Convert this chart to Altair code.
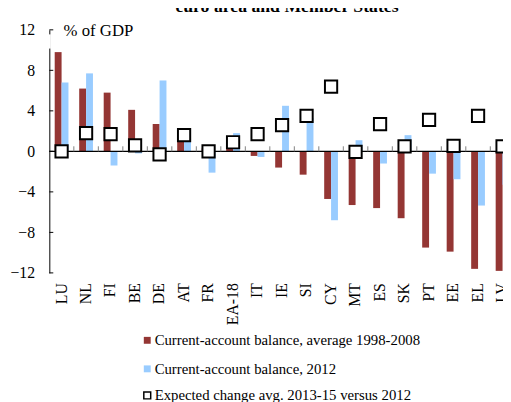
import altair as alt
import pandas as pd

# ---- data ----
countries = ["LU", "NL", "FI", "BE", "DE", "AT", "FR", "EA-18", "IT", "IE",
             "SI", "CY", "MT", "ES", "SK", "PT", "EE", "EL", "LV"]
avg_1998_2008 = [9.8, 6.2, 5.8, 4.1, 2.7, 1.0, 0.3, 0.4, -0.45, -1.6,
                 -2.3, -4.7, -5.3, -5.6, -6.6, -9.5, -9.9, -11.6, -11.8]
ca_2012 = [6.8, 7.7, -1.4, -0.2, 7.0, 1.6, -2.1, 1.8, -0.55, 4.5,
           3.3, -6.8, 1.1, -1.2, 1.6, -2.2, -2.75, -5.35, -3.3]
exp_change = [0.0, 1.8, 1.7, 0.6, -0.3, 1.6, 0.0, 0.9, 1.7, 2.6,
              3.5, 6.4, -0.05, 2.7, 0.5, 3.1, 0.55, 3.5, 0.5]
y_ticks = [-12, -8, -4, 0, 4, 8, 12]

lab_avg = "Current-account balance, average 1998-2008"
lab_2012 = "Current-account balance, 2012"
lab_exp = "Expected change avg. 2013-15 versus 2012"
title_text = "euro area and Member States"

RED = "#943634"
BLUE = "#99CCFF"
FONT = "Liberation Serif"

bars_df = pd.DataFrame({
    "country": countries * 2,
    "series": [lab_avg] * len(countries) + [lab_2012] * len(countries),
    "value": avg_1998_2008 + ca_2012,
})
sq_df = pd.DataFrame({"country": countries, "value": exp_change, "kind": [lab_exp] * len(countries)})
sep_df = pd.DataFrame({"country": countries[1:]})
yt_df = pd.DataFrame({"v": y_ticks})
title_df = pd.DataFrame({"t": [title_text]})

x_scale = alt.Scale(domain=countries, range=[0, 473], paddingInner=0, paddingOuter=0)
y_scale = alt.Scale(domain=[-12, 12], nice=False, zero=False)

x_enc = alt.X("country:N", scale=x_scale, sort=countries, title=None,
              axis=alt.Axis(labelAngle=-90, labelFont=FONT, labelFontSize=16,
                            labelColor="black", labelPadding=10, domain=False,
                            ticks=False, grid=False))
y_axis = alt.Axis(values=y_ticks, labelFont=FONT, labelFontSize=16, labelColor="black",
                  ticks=False, labelPadding=15, grid=False, domainColor="black",
                  domainWidth=1, title="% of GDP", titleAngle=0, titleAlign="left",
                  titleBaseline="middle", titleX=14, titleY=1, titleFont=FONT,
                  titleFontSize=17, titleFontWeight="normal", titleColor="black")

leg_common = dict(orient="none", title=None, symbolType="square", symbolSize=49,
                  labelFont=FONT, labelFontSize=15, labelColor="black",
                  labelOffset=0, padding=0, labelLimit=400)

bars = alt.Chart(bars_df).mark_bar().encode(
    x=x_enc,
    xOffset=alt.XOffset("series:N", sort=[lab_avg, lab_2012],
                        scale=alt.Scale(paddingInner=0, paddingOuter=0.78)),
    y=alt.Y("value:Q", scale=y_scale, axis=y_axis),
    color=alt.Color("series:N",
                    scale=alt.Scale(domain=[lab_avg, lab_2012], range=[RED, BLUE]),
                    legend=alt.Legend(legendX=92, legendY=308, symbolStrokeWidth=0,
                                      rowPadding=13, **leg_common)),
)

zero = alt.Chart(title_df).mark_rule(color="black", strokeWidth=1.3).encode(
    y=alt.datum(0, scale=y_scale))

seps = alt.Chart(sep_df).mark_rule(color="#808080", strokeWidth=1).encode(
    x=alt.X("country:N", scale=x_scale, sort=countries, bandPosition=0),
    y=alt.datum(0), y2=alt.datum(0.5))

yticks = alt.Chart(yt_df).mark_rule(color="black", strokeWidth=1).encode(
    x=alt.value(0), x2=alt.value(4), y=alt.Y("v:Q", scale=y_scale))

gap = alt.Chart(title_df).mark_rule(color="white", strokeWidth=3).encode(
    x=alt.value(0), y=alt.datum(11.55), y2=alt.datum(10.15))

squares = alt.Chart(sq_df).mark_point(shape="square", filled=False, fill="white",
                                      fillOpacity=1, strokeWidth=2, size=155,
                                      opacity=1).encode(
    x=alt.X("country:N", scale=x_scale, sort=countries),
    y=alt.Y("value:Q", scale=y_scale),
    stroke=alt.Stroke("kind:N", scale=alt.Scale(domain=[lab_exp], range=["black"]),
                      legend=alt.Legend(legendX=92, legendY=364, symbolFillColor="white",
                                        symbolStrokeWidth=1.5, **leg_common)),
)

title = alt.Chart(title_df).mark_text(font=FONT, fontSize=18, fontWeight="bold",
                                      align="center", baseline="alphabetic",
                                      color="black").encode(
    text="t:N", x=alt.value(241.5), y=alt.value(-18))

chart = alt.layer(bars, zero, seps, yticks, gap, squares, title).resolve_scale(
    color="independent", stroke="independent"
).properties(
    width=461, height=247,
    autosize=alt.AutoSizeParams(type="none"),
    padding={"left": 42, "top": 19, "right": 0, "bottom": 128},
).configure_view(stroke=None)

chart.save("out.html", embed_options={"renderer": "svg", "actions": False})
